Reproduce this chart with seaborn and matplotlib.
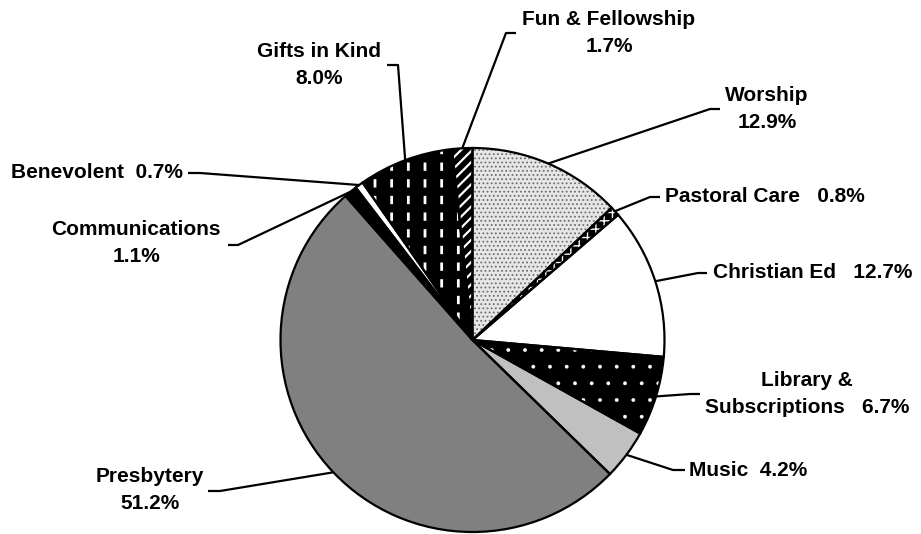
# ---import required libraries---
import matplotlib
matplotlib.use('Agg')
import matplotlib.pyplot as plt
from matplotlib.patches import Wedge
import numpy as np
import seaborn as sns

#---set plotting aesthetics---
sns.set_theme(style='white')
plt.rcParams['font.family'] = ['Liberation Sans', 'DejaVu Sans']
plt.rcParams['hatch.linewidth'] = 1.3

# ---data (clockwise from 12 o'clock)---
categories = ['Worship', 'Pastoral Care', 'Christian Ed', 'Library &\nSubscriptions', 'Music',
              'Presbytery', 'Communications', 'Benevolent', 'Gifts in Kind', 'Fun & Fellowship']
shares = [12.9, 0.8, 12.7, 6.7, 4.2, 51.2, 1.1, 0.7, 8.0, 1.7]

# ---slice styles---
face_colors = ['#e6e6e6', 'black', 'white', 'black', '#c0c0c0',
               '#808080', 'black', 'white', 'black', 'black']
hatch_colors = ['#6e6e6e', 'white', 'white', 'white', '#c0c0c0',
                '#808080', 'black', 'white', 'white', 'white']
hatches = ['....', '++', '', '.', '', '', '', '', '|', '///']
hatch_widths = [0.8, 1.0, 1.0, 0.3, 1.0, 1.0, 1.0, 1.0, 2.0, 1.6]

# ---label layout in image pixels: text x, text y, ha, elbow x, end x, line y---
label_sep = ['\n', '   ', '   ', '   ', '  ', '\n', '\n', '  ', '\n', '\n']
label_layout = [
    (767, 109, 'center', 710, 720, 109),
    (665, 197, 'left', 650, 660, 197),
    (713, 273, 'left', 698, 707, 273),
    (807, 394, 'center', 690, 700, 394),
    (689, 470, 'left', 673, 685, 470),
    (150, 490, 'center', 220, 208, 491),
    (136, 243, 'center', 238, 228, 245),
    (183, 173, 'right', 200, 188, 173),
    (319, 65, 'center', 398, 387, 65),
    (609, 33, 'center', 506, 516, 33),
]

W, H = 921, 534
cx, cy, r = 472.5, H - 340, 192

fig = plt.figure(figsize=(9.21, 5.34), dpi=100)
ax = fig.add_axes([0, 0, 1, 1])

# - fill + pattern layer
wedges, _ = ax.pie(shares, startangle=90, counterclock=False, center=(cx, cy), radius=r,
                   colors=face_colors, hatch=hatches, wedgeprops=dict(linewidth=0))
for w, hc, hw in zip(wedges, hatch_colors, hatch_widths):
    w.set_edgecolor(hc)
    w.set_linewidth(0)
    if hasattr(w, 'set_hatch_linewidth'):
        w.set_hatch_linewidth(hw)

# - break the vertical stripes of gifts in kind into dashes
gifts = wedges[categories.index('Gifts in Kind')]
dash = Wedge((cx, cy), r, gifts.theta1, gifts.theta2,
             facecolor='none', edgecolor='black', linewidth=0, hatch='-')
if hasattr(dash, 'set_hatch_linewidth'):
    dash.set_hatch_linewidth(6)
ax.add_patch(dash)

# - outline layer
ax.pie(shares, startangle=90, counterclock=False, center=(cx, cy), radius=r,
       wedgeprops=dict(facecolor='none', edgecolor='black', linewidth=1.6))

# - labels with leader lines
for w, name, val, sep, (tx, ty, ha, ex, nx, ly) in zip(wedges, categories, shares, label_sep, label_layout):
    ang = np.deg2rad((w.theta1 + w.theta2) / 2)
    px, py = cx + r * np.cos(ang), cy + r * np.sin(ang)
    ax.plot([px, ex, nx], [py, H - ly, H - ly], color='black', lw=1.6, solid_capstyle='butt')
    ax.text(tx, H - ty, f'{name}{sep}{val:.1f}%', ha=ha, va='center', multialignment='center',
            fontsize=15, fontweight='bold', color='black', linespacing=1.5)

ax.set_xlim(0, W)
ax.set_ylim(0, H)
ax.set_aspect('equal')
ax.axis('off')

fig.savefig('out.png', dpi=100)
